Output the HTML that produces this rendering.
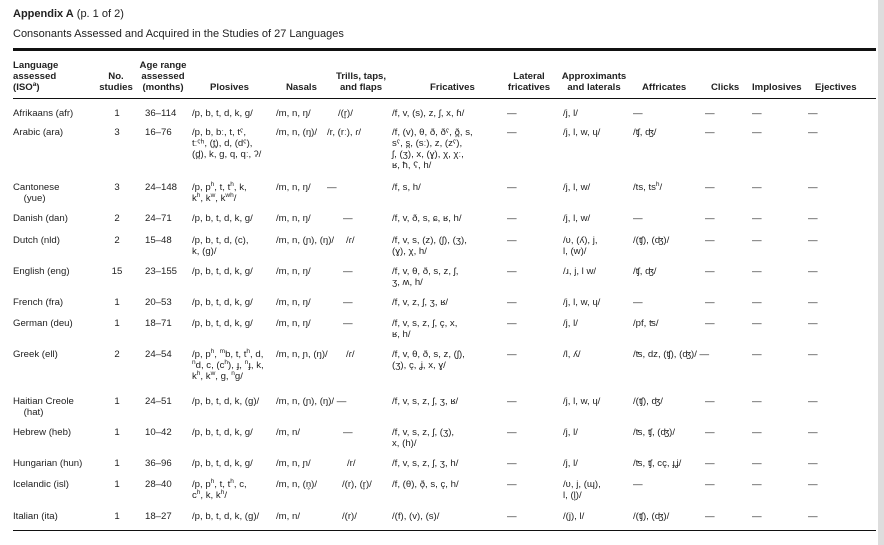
<!DOCTYPE html><html><head><meta charset="utf-8"><style>
body{margin:0;width:884px;height:545px;background:#fff;position:relative;overflow:hidden;font-family:"Liberation Sans",Arial,sans-serif;color:#222;font-size:9.6px;line-height:11px}
div{position:absolute;white-space:nowrap}
.h{font-weight:bold}
.c{text-align:center}
.r{text-align:right}
sup{font-size:6.5px;line-height:0;vertical-align:4px}
</style></head><body>
<div style="left:13px;top:9px;font-size:11px"><b>Appendix A</b> (p. 1 of 2)</div>
<div style="left:13px;top:29px;font-size:11px">Consonants Assessed and Acquired in the Studies of 27 Languages</div>
<div style="left:13px;top:48px;width:863px;height:3px;background:#111"></div>
<div style="left:13px;top:98px;width:863px;height:1px;background:#111"></div>
<div style="left:13px;top:530px;width:863px;height:1px;background:#111"></div>
<div style="left:878px;top:0;width:6px;height:545px;background:#ddd"></div>

<div class="h" style="left:13px;top:60px">Language<br>assessed<br>(ISO<sup>a</sup>)</div>
<div class="h c" style="left:96px;top:71px;width:40px">No.<br>studies</div>
<div class="h c" style="left:136px;top:60px;width:54px">Age range<br>assessed<br>(months)</div>
<div class="h" style="left:210px;top:82px">Plosives</div>
<div class="h" style="left:286px;top:82px">Nasals</div>
<div class="h c" style="left:334px;top:71px;width:54px">Trills, taps,<br>and flaps</div>
<div class="h" style="left:430px;top:82px">Fricatives</div>
<div class="h c" style="left:502px;top:71px;width:54px">Lateral<br>fricatives</div>
<div class="h c" style="left:556px;top:71px;width:76px">Approximants<br>and laterals</div>
<div class="h" style="left:642px;top:82px">Affricates</div>
<div class="h" style="left:711px;top:82px">Clicks</div>
<div class="h" style="left:752px;top:82px">Implosives</div>
<div class="h" style="left:815px;top:82px">Ejectives</div>

<div style="left:13px;top:108px">Afrikaans (afr)</div><div class="c" style="left:107px;top:108px;width:20px">1</div><div style="left:145px;top:108px">36–114</div><div style="left:192px;top:108px">/p, b, t, d, k, g/</div><div style="left:276px;top:108px">/m, n, ŋ/</div><div style="left:338px;top:108px">/(r̥)/</div><div style="left:392px;top:108px">/f, v, (s), z, ʃ, x, ɦ/</div><div style="left:507px;top:108px">—</div><div style="left:563px;top:108px">/j, l/</div><div style="left:633px;top:108px">—</div><div style="left:705px;top:108px">—</div><div style="left:752px;top:108px">—</div><div style="left:808px;top:108px">—</div>

<div style="left:13px;top:127px">Arabic (ara)</div><div class="c" style="left:107px;top:127px;width:20px">3</div><div style="left:145px;top:127px">16–76</div><div style="left:192px;top:127px">/p, b, bː, t, tˁ,<br>tːˁʰ, (t̪), d, (dˁ),<br>(d̪), k, g, q, qː, ʔ/</div><div style="left:276px;top:127px">/m, n, (ŋ)/</div><div style="left:327px;top:127px">/r, (rː), ɾ/</div><div style="left:392px;top:127px">/f, (v), θ, ð, ðˁ, ð̪, s,<br>sˁ, s̪, (sː), z, (zˁ),<br>ʃ, (ʒ), x, (ɣ), χ, χː,<br>ʁ, ħ, ʕ, h/</div><div style="left:507px;top:127px">—</div><div style="left:563px;top:127px">/j, l, w, ɥ/</div><div style="left:633px;top:127px">/ʧ, ʤ/</div><div style="left:705px;top:127px">—</div><div style="left:752px;top:127px">—</div><div style="left:808px;top:127px">—</div>

<div style="left:13px;top:182px">Cantonese<br>&nbsp;&nbsp;&nbsp;&nbsp;(yue)</div><div class="c" style="left:107px;top:182px;width:20px">3</div><div style="left:145px;top:182px">24–148</div><div style="left:192px;top:182px">/p, p<sup>h</sup>, t, t<sup>h</sup>, k,<br>k<sup>h</sup>, k<sup>w</sup>, k<sup>wh</sup>/</div><div style="left:276px;top:182px">/m, n, ŋ/</div><div style="left:327px;top:182px">—</div><div style="left:392px;top:182px">/f, s, h/</div><div style="left:507px;top:182px">—</div><div style="left:563px;top:182px">/j, l, w/</div><div style="left:633px;top:182px">/ts, ts<sup>h</sup>/</div><div style="left:705px;top:182px">—</div><div style="left:752px;top:182px">—</div><div style="left:808px;top:182px">—</div>

<div style="left:13px;top:213px">Danish (dan)</div><div class="c" style="left:107px;top:213px;width:20px">2</div><div style="left:145px;top:213px">24–71</div><div style="left:192px;top:213px">/p, b, t, d, k, g/</div><div style="left:276px;top:213px">/m, n, ŋ/</div><div style="left:343px;top:213px">—</div><div style="left:392px;top:213px">/f, v, ð, s, ɕ, ʁ, h/</div><div style="left:507px;top:213px">—</div><div style="left:563px;top:213px">/j, l, w/</div><div style="left:633px;top:213px">—</div><div style="left:705px;top:213px">—</div><div style="left:752px;top:213px">—</div><div style="left:808px;top:213px">—</div>

<div style="left:13px;top:235px">Dutch (nld)</div><div class="c" style="left:107px;top:235px;width:20px">2</div><div style="left:145px;top:235px">15–48</div><div style="left:192px;top:235px">/p, b, t, d, (c),<br>k, (g)/</div><div style="left:276px;top:235px">/m, n, (ɲ), (ŋ)/</div><div style="left:346px;top:235px">/ɾ/</div><div style="left:392px;top:235px">/f, v, s, (z), (ʃ), (ʒ),<br>(ɣ), χ, h/</div><div style="left:507px;top:235px">—</div><div style="left:563px;top:235px">/ʋ, (ʎ), j,<br>l, (w)/</div><div style="left:633px;top:235px">/(ʧ), (ʤ)/</div><div style="left:705px;top:235px">—</div><div style="left:752px;top:235px">—</div><div style="left:808px;top:235px">—</div>

<div style="left:13px;top:266px">English (eng)</div><div class="c" style="left:107px;top:266px;width:20px">15</div><div style="left:145px;top:266px">23–155</div><div style="left:192px;top:266px">/p, b, t, d, k, g/</div><div style="left:276px;top:266px">/m, n, ŋ/</div><div style="left:343px;top:266px">—</div><div style="left:392px;top:266px">/f, v, θ, ð, s, z, ʃ,<br>ʒ, ʍ, h/</div><div style="left:507px;top:266px">—</div><div style="left:563px;top:266px">/ɹ, j, l w/</div><div style="left:633px;top:266px">/ʧ, ʤ/</div><div style="left:705px;top:266px">—</div><div style="left:752px;top:266px">—</div><div style="left:808px;top:266px">—</div>

<div style="left:13px;top:297px">French (fra)</div><div class="c" style="left:107px;top:297px;width:20px">1</div><div style="left:145px;top:297px">20–53</div><div style="left:192px;top:297px">/p, b, t, d, k, g/</div><div style="left:276px;top:297px">/m, n, ŋ/</div><div style="left:343px;top:297px">—</div><div style="left:392px;top:297px">/f, v, z, ʃ, ʒ, ʁ/</div><div style="left:507px;top:297px">—</div><div style="left:563px;top:297px">/j, l, w, ɥ/</div><div style="left:633px;top:297px">—</div><div style="left:705px;top:297px">—</div><div style="left:752px;top:297px">—</div><div style="left:808px;top:297px">—</div>

<div style="left:13px;top:318px">German (deu)</div><div class="c" style="left:107px;top:318px;width:20px">1</div><div style="left:145px;top:318px">18–71</div><div style="left:192px;top:318px">/p, b, t, d, k, g/</div><div style="left:276px;top:318px">/m, n, ŋ/</div><div style="left:343px;top:318px">—</div><div style="left:392px;top:318px">/f, v, s, z, ʃ, ç, x,<br>ʁ, h/</div><div style="left:507px;top:318px">—</div><div style="left:563px;top:318px">/j, l/</div><div style="left:633px;top:318px">/pf, ʦ/</div><div style="left:705px;top:318px">—</div><div style="left:752px;top:318px">—</div><div style="left:808px;top:318px">—</div>

<div style="left:13px;top:349px">Greek (ell)</div><div class="c" style="left:107px;top:349px;width:20px">2</div><div style="left:145px;top:349px">24–54</div><div style="left:192px;top:349px">/p, p<sup>h</sup>, <sup>m</sup>b, t, t<sup>h</sup>, d,<br><sup>n</sup>d, c, (c<sup>h</sup>), ɟ, <sup>n</sup>ɟ, k,<br>k<sup>h</sup>, k<sup>w</sup>, g, <sup>n</sup>g/</div><div style="left:276px;top:349px">/m, n, ɲ, (ŋ)/</div><div style="left:346px;top:349px">/ɾ/</div><div style="left:392px;top:349px">/f, v, θ, ð, s, z, (ʃ),<br>(ʒ), ç, ʝ, x, ɣ/</div><div style="left:507px;top:349px">—</div><div style="left:563px;top:349px">/l, ʎ/</div><div style="left:633px;top:349px">/ʦ, dz, (ʧ), (ʤ)/ —</div><div style="left:752px;top:349px">—</div><div style="left:808px;top:349px">—</div>

<div style="left:13px;top:396px">Haitian Creole<br>&nbsp;&nbsp;&nbsp;&nbsp;(hat)</div><div class="c" style="left:107px;top:396px;width:20px">1</div><div style="left:145px;top:396px">24–51</div><div style="left:192px;top:396px">/p, b, t, d, k, (g)/</div><div style="left:276px;top:396px">/m, n, (ɲ), (ŋ)/ —</div><div style="left:392px;top:396px">/f, v, s, z, ʃ, ʒ, ʁ/</div><div style="left:507px;top:396px">—</div><div style="left:563px;top:396px">/j, l, w, ɥ/</div><div style="left:633px;top:396px">/(ʧ), ʤ/</div><div style="left:705px;top:396px">—</div><div style="left:752px;top:396px">—</div><div style="left:808px;top:396px">—</div>

<div style="left:13px;top:427px">Hebrew (heb)</div><div class="c" style="left:107px;top:427px;width:20px">1</div><div style="left:145px;top:427px">10–42</div><div style="left:192px;top:427px">/p, b, t, d, k, g/</div><div style="left:276px;top:427px">/m, n/</div><div style="left:343px;top:427px">—</div><div style="left:392px;top:427px">/f, v, s, z, ʃ, (ʒ),<br>x, (h)/</div><div style="left:507px;top:427px">—</div><div style="left:563px;top:427px">/j, l/</div><div style="left:633px;top:427px">/ʦ, ʧ, (ʤ)/</div><div style="left:705px;top:427px">—</div><div style="left:752px;top:427px">—</div><div style="left:808px;top:427px">—</div>

<div style="left:13px;top:458px">Hungarian (hun)</div><div class="c" style="left:107px;top:458px;width:20px">1</div><div style="left:145px;top:458px">36–96</div><div style="left:192px;top:458px">/p, b, t, d, k, g/</div><div style="left:276px;top:458px">/m, n, ɲ/</div><div style="left:347px;top:458px">/r/</div><div style="left:392px;top:458px">/f, v, s, z, ʃ, ʒ, h/</div><div style="left:507px;top:458px">—</div><div style="left:563px;top:458px">/j, l/</div><div style="left:633px;top:458px">/ʦ, ʧ, cç, ɟʝ/</div><div style="left:705px;top:458px">—</div><div style="left:752px;top:458px">—</div><div style="left:808px;top:458px">—</div>

<div style="left:13px;top:479px">Icelandic (isl)</div><div class="c" style="left:107px;top:479px;width:20px">1</div><div style="left:145px;top:479px">28–40</div><div style="left:192px;top:479px">/p, p<sup>h</sup>, t, t<sup>h</sup>, c,<br>c<sup>h</sup>, k, k<sup>h</sup>/</div><div style="left:276px;top:479px">/m, n, (n̥)/</div><div style="left:342px;top:479px">/(r), (r̥)/</div><div style="left:392px;top:479px">/f, (θ), ð̞, s, ç, h/</div><div style="left:507px;top:479px">—</div><div style="left:563px;top:479px">/ʋ, j, (ɰ),<br>l, (l̥)/</div><div style="left:633px;top:479px">—</div><div style="left:705px;top:479px">—</div><div style="left:752px;top:479px">—</div><div style="left:808px;top:479px">—</div>

<div style="left:13px;top:511px">Italian (ita)</div><div class="c" style="left:107px;top:511px;width:20px">1</div><div style="left:145px;top:511px">18–27</div><div style="left:192px;top:511px">/p, b, t, d, k, (g)/</div><div style="left:276px;top:511px">/m, n/</div><div style="left:342px;top:511px">/(r)/</div><div style="left:392px;top:511px">/(f), (v), (s)/</div><div style="left:507px;top:511px">—</div><div style="left:563px;top:511px">/(j), l/</div><div style="left:633px;top:511px">/(ʧ), (ʤ)/</div><div style="left:705px;top:511px">—</div><div style="left:752px;top:511px">—</div><div style="left:808px;top:511px">—</div>
</body></html>
